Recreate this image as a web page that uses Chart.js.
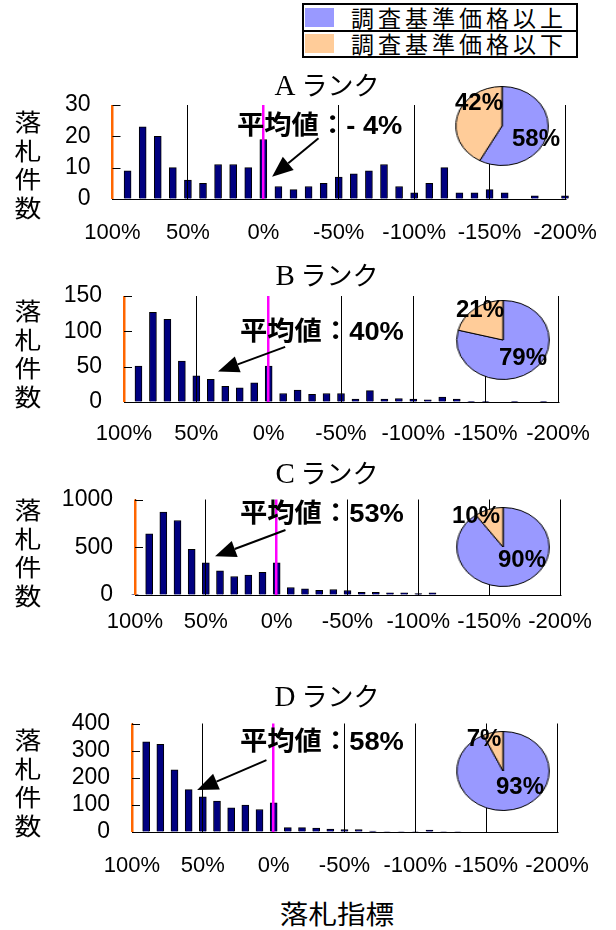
<!DOCTYPE html>
<html lang="ja">
<head>
<meta charset="utf-8">
<script src="https://cdn.jsdelivr.net/npm/chart.js@4"></script>
<style>
  body { margin: 0; background: #fff; width: 616px; height: 930px; position: relative; overflow: hidden;
         font-family: "Noto Sans CJK JP", sans-serif; color: #000; }
  .txt { position: absolute; white-space: nowrap; line-height: 1; }
  .title { font-size: 26px; transform: translate(-50%, -50%); }
  .title .rank { font-family: "Liberation Serif", serif; font-size: 29px; }
  .ytitle { font-size: 24px; line-height: 28.5px; text-align: center; width: 30px; transform: scaleX(1.12); }
  .avg { font-family: "Liberation Sans", "Noto Sans CJK JP", sans-serif; font-weight: bold; font-size: 26px;
         transform: translateY(-50%) scaleX(1.05); transform-origin: left center; }
  .pct { font-family: "Liberation Sans", sans-serif; font-weight: bold; font-size: 24px; transform: translate(-50%, -50%); }
  #legend { position: absolute; left: 302px; top: 3px; width: 272px; border: 2.5px solid #000; }
  #legend .row { display: flex; align-items: center; height: 24.5px; }
  #legend .row + .row { border-top: 2px solid #000; }
  #legend .sw { width: 29px; height: 19px; margin-left: 1px; }
  #legend .lab { font-size: 23px; margin-left: 17px; letter-spacing: 4px; line-height: 1; }
</style>
</head>
<body>
<div id="legend"></div>
<script>
// カテゴリ（落札指標）
const categories = ['100%', '90%', '80%', '70%', '60%', '50%', '40%', '30%', '20%', '10%', '0%',
  '-10%', '-20%', '-30%', '-40%', '-50%', '-60%', '-70%', '-80%', '-90%', '-100%',
  '-110%', '-120%', '-130%', '-140%', '-150%', '-160%', '-170%', '-180%', '-190%', '-200%'];
const tickLabels = ['100%', '50%', '0%', '-50%', '-100%', '-150%', '-200%'];
const rankNames = ['A', 'B', 'C', 'D'];

// 落札件数
const countsA = [0, 9, 23, 20, 10, 6, 5, 11, 11, 10, 19, 4, 3, 4, 5, 7, 8, 9, 11, 4, 2, 5, 10, 2, 2, 3, 2, 0, 1, 0, 1];
const countsB = [0, 51, 127, 117, 58, 37, 32, 22, 20, 27, 51, 12, 17, 11, 12, 12, 4, 16, 4, 5, 4, 3, 7, 4, 1, 1, 0, 1, 0, 1, 0];
const countsC = [8, 640, 867, 780, 478, 338, 252, 194, 209, 237, 338, 79, 65, 50, 58, 47, 29, 29, 22, 22, 14, 22, 0, 0, 0, 0, 0, 0, 0, 0, 0];
const countsD = [0, 332, 323, 229, 156, 130, 114, 89, 99, 83, 108, 16, 16, 14, 11, 9, 9, 3, 2, 2, 2, 7, 2, 2, 0, 0, 0, 0, 0, 0, 0];
const yMax = [30, 150, 1000, 400];
const yStep = [10, 50, 500, 100];

// 調査基準価格以上 / 以下 の割合
const pieLabels = ['調査基準価格以上', '調査基準価格以下'];
const pieA = [58, 42];
const pieB = [79, 21];
const pieC = [90, 10];
const pieD = [93, 7];
const averages = ['- 4%', '40%', '53%', '58%'];

const counts = [countsA, countsB, countsC, countsD];
const pies = [pieA, pieB, pieC, pieD];
const pieColors = ['#9999FF', '#FFCC99'];

// 位置（ページ上のピクセル）
const frames = [
  { left: 112.5, right: 565, top: 105, bottom: 199, labelY: 233, titleY: 85, avg: [237, 125], pie: [502, 125.5],
    pctPos: [[536, 138], [479, 102]], yTitle: 107, arrow: { from: [13.66, 19.4], to: [10.58, 7.1] } },
  { left: 124, right: 558, top: 296, bottom: 402, labelY: 434, titleY: 275, avg: [240, 331], pie: [503, 340],
    pctPos: [[523, 357], [480, 309]], yTitle: 296, arrow: { from: [11.14, 78], to: [6.5, 43] } },
  { left: 135, right: 560, top: 499.5, bottom: 595, labelY: 622, titleY: 473, avg: [240, 513], pie: [503, 546.5],
    pctPos: [[522, 559], [476, 515]], yTitle: 495, arrow: { from: [10.62, 681], to: [5.65, 405] } },
  { left: 132, right: 557, top: 723.5, bottom: 832, labelY: 866, titleY: 696, avg: [240, 741], pie: [503, 771],
    pctPos: [[520, 786], [484, 738]], yTitle: 725, arrow: { from: [9.49, 265], to: [4.6, 155] } }
];

// 平均値の矢印
const arrowPlugin = {
  id: 'avgArrow',
  afterDraw(chart, args, opts) {
    const { x, y } = chart.scales;
    const ctx = chart.ctx;
    const x0 = x.getPixelForValue(opts.from[0]), y0 = y.getPixelForValue(opts.from[1]);
    const x1 = x.getPixelForValue(opts.to[0]), y1 = y.getPixelForValue(opts.to[1]);
    const ang = Math.atan2(y1 - y0, x1 - x0);
    const len = 21, half = 8.5;
    const bx = x1 - len * Math.cos(ang), by = y1 - len * Math.sin(ang);
    ctx.save();
    ctx.strokeStyle = '#000';
    ctx.fillStyle = '#000';
    ctx.lineWidth = 2;
    ctx.beginPath();
    ctx.moveTo(x0, y0);
    ctx.lineTo(bx, by);
    ctx.stroke();
    ctx.beginPath();
    ctx.moveTo(x1, y1);
    ctx.lineTo(bx + half * Math.sin(ang), by - half * Math.cos(ang));
    ctx.lineTo(bx - half * Math.sin(ang), by + half * Math.cos(ang));
    ctx.closePath();
    ctx.fill();
    ctx.restore();
  }
};

// 縦軸の内向き目盛
const innerTicks = {
  id: 'innerTicks',
  afterDraw(chart) {
    const s = chart.scales.y;
    const ctx = chart.ctx;
    ctx.save();
    ctx.strokeStyle = '#000';
    ctx.lineWidth = 1;
    s.ticks.forEach(t => {
      const py = Math.round(s.getPixelForValue(t.value)) + 0.5;
      ctx.beginPath();
      ctx.moveTo(s.right, py);
      ctx.lineTo(s.right + 8, py);
      ctx.stroke();
    });
    ctx.restore();
  }
};

function gridColor(idx) {
  if (idx === 0) return '#FF6600';
  if (idx === 10) return '#FF00FF';
  if (idx % 5 === 0) return '#000';
  return 'rgba(0,0,0,0)';
}

function addText(cls, html, x, y) {
  const d = document.createElement('div');
  d.className = 'txt ' + cls;
  d.innerHTML = html;
  d.style.left = x + 'px';
  d.style.top = y + 'px';
  document.body.appendChild(d);
  return d;
}

function makeBar(i) {
  const f = frames[i];
  const cTop = Math.round(f.top - 24);
  const cBottom = Math.round(f.labelY + 18);
  const canvas = document.createElement('canvas');
  canvas.width = 616;
  canvas.height = cBottom - cTop;
  canvas.style.cssText = 'position:absolute;left:0;top:' + cTop + 'px;';
  document.body.appendChild(canvas);

  new Chart(canvas, {
    type: 'bar',
    data: {
      labels: categories,
      datasets: [{
        data: counts[i],
        backgroundColor: '#000080',
        borderColor: '#000000',
        borderWidth: 1,
        barThickness: 7,
        clip: false
      }]
    },
    options: {
      responsive: false,
      animation: false,
      devicePixelRatio: 1,
      layout: { padding: { top: f.top - cTop, right: 616 - f.right, left: 0, bottom: 0 } },
      plugins: {
        legend: { display: false },
        tooltip: { enabled: false },
        avgArrow: f.arrow
      },
      scales: {
        x: {
          offset: false,
          grid: {
            offset: false,
            z: 1,
            drawTicks: true,
            tickLength: f.labelY - f.bottom - 16,
            tickColor: 'rgba(0,0,0,0)',
            color: ctx => gridColor(ctx.index),
            lineWidth: ctx => (ctx.index === 0 || ctx.index === 10) ? 2.5 : 1
          },
          border: { color: '#000', width: 1, z: 1 },
          ticks: {
            autoSkip: false,
            maxRotation: 0,
            minRotation: 0,
            padding: 3,
            color: '#000',
            font: { family: 'Liberation Sans', size: 22 },
            callback: (v, idx) => tickLabels.includes(categories[idx]) ? categories[idx] : ''
          },
          afterFit: s => { s.height = cBottom - f.bottom; }
        },
        y: {
          min: 0,
          max: yMax[i],
          grid: { drawOnChartArea: false, drawTicks: true, tickLength: 19, tickColor: 'rgba(0,0,0,0)' },
          border: { color: '#000', width: 1 },
          ticks: {
            stepSize: yStep[i],
            autoSkip: false,
            padding: 3,
            color: '#000',
            font: { family: 'Liberation Sans', size: 23 },
            callback: v => String(v)
          },
          afterFit: s => { s.width = f.left; }
        }
      }
    },
    plugins: [arrowPlugin, innerTicks]
  });
}

function makePie(i) {
  const f = frames[i];
  const wrap = document.createElement('div');
  wrap.style.cssText = 'position:absolute;width:82px;height:82px;transform:scaleX(1.17);left:' +
    (f.pie[0] - 41) + 'px;top:' + (f.pie[1] - 41) + 'px;';
  const c = document.createElement('canvas');
  c.width = 82;
  c.height = 82;
  wrap.appendChild(c);
  document.body.appendChild(wrap);
  new Chart(c, {
    type: 'pie',
    data: {
      labels: pieLabels,
      datasets: [{ data: pies[i], backgroundColor: pieColors, borderColor: '#000', borderWidth: 1 }]
    },
    options: {
      responsive: false,
      animation: false,
      devicePixelRatio: 1,
      layout: { padding: 1 },
      plugins: { legend: { display: false }, tooltip: { enabled: false } }
    }
  });
  pies[i].forEach((v, k) => addText('pct', v + '%', f.pctPos[k][0], f.pctPos[k][1]));
}

for (let i = 0; i < 4; i++) {
  makeBar(i);
  makePie(i);
  const f = frames[i];
  addText('title', '<span class="rank">' + rankNames[i] + '</span> ランク', 327, f.titleY);
  addText('avg', '平均値：' + averages[i], f.avg[0], f.avg[1]);
  addText('ytitle', '落<br>札<br>件<br>数', 13, f.yTitle);
}

addText('title', '落札指標', 337, 913).style.transform = 'translate(-50%, -50%) scaleX(1.1)';

// 凡例
const legend = document.getElementById('legend');
pieLabels.forEach((t, k) => {
  const row = document.createElement('div');
  row.className = 'row';
  row.innerHTML = '<div class="sw" style="background:' + pieColors[k] + '"></div><div class="lab">' + t + '</div>';
  legend.appendChild(row);
});
</script>
</body>
</html>
